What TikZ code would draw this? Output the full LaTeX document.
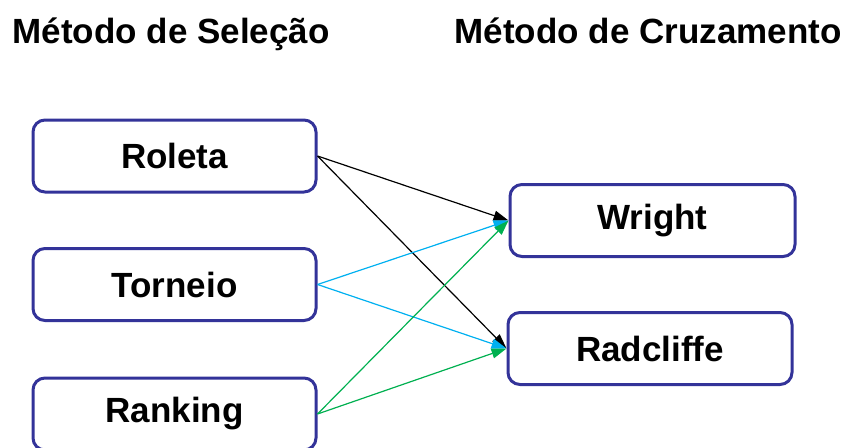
\documentclass[tikz,border=0pt]{standalone}
\usepackage{fontspec}
\setmainfont{Liberation Sans}
\usetikzlibrary{arrows.meta}
\definecolor{boxblue}{RGB}{51,51,153}
\definecolor{cyanline}{RGB}{0,176,240}
\definecolor{greenline}{RGB}{0,176,80}
\tikzset{
  methodbox/.style={draw=boxblue, line width=3pt, rounded corners=12pt, fill=white,
    minimum width=283pt, minimum height=72pt, inner sep=0pt,
    font=\fontsize{35}{40}\selectfont\bfseries},
  titletext/.style={anchor=base west, inner sep=0pt, font=\fontsize{35}{40}\selectfont\bfseries},
  conn/.style={line width=1.2pt, -{Triangle[length=15pt,width=10pt]}}
}
\begin{document}
\begin{tikzpicture}[x=1pt,y=-1pt]
\useasboundingbox (0,0) rectangle (848,447);
\clip (0,0) rectangle (848,447);
\node[titletext] (t1) at (12.5,43) {Método de Seleção};
\node[titletext] (t2) at (454.5,43) {Método de Cruzamento};
\node[methodbox] (rol) at (174.5,156) {Roleta};
\node[methodbox] (tor) at (174.5,284.5) {Torneio};
\node[methodbox] (ran) at (174.5,414) {Ranking};
\node[methodbox, minimum width=285pt] (wri) at (652.5,220.5) {Wright};
\node[methodbox, minimum width=284pt] (rad) at (650,348.5) {Radcliffe};
\draw[conn, black] (rol.east) -- (wri.west);
\draw[conn, black] (rol.east) -- (rad.west);
\draw[conn, cyanline] (tor.east) -- (wri.west);
\draw[conn, cyanline] (tor.east) -- (rad.west);
\draw[conn, greenline] (ran.east) -- (wri.west);
\draw[conn, greenline] (ran.east) -- (rad.west);
\end{tikzpicture}
\end{document}
